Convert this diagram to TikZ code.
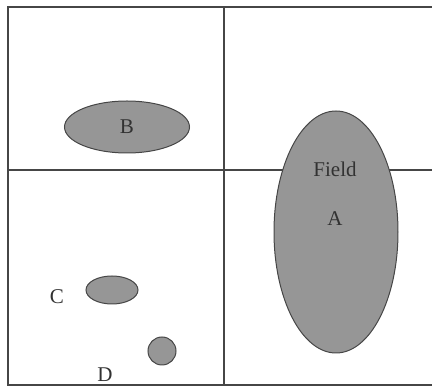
\documentclass[tikz,border=0pt]{standalone}
\usepackage{fontspec}
\setmainfont{Liberation Serif}
\usetikzlibrary{shapes.geometric}
\definecolor{relleno}{RGB}{150,150,150}
\definecolor{borde}{RGB}{70,70,70}
\definecolor{texto}{RGB}{50,50,50}

\begin{document}
\begin{tikzpicture}[x=1pt, y=-1pt, region/.style={ellipse, draw=borde, fill=relleno, line width=1pt, inner sep=0pt}, etiqueta/.style={text=texto, font=\fontsize{21}{25}\selectfont}, linea/.style={draw=borde, line width=1.8pt}]
                    \useasboundingbox (0,0) rectangle (432,387);

                    % Cuadrícula
                    \coordinate (NO) at (8,7);
                    \coordinate (SO) at (8,385);
                    \coordinate (NE) at (432,7);
                    \coordinate (SE) at (432,385);
                    \coordinate (MN) at (224,7);
                    \coordinate (MS) at (224,385);
                    \coordinate (MO) at (8,170);
                    \coordinate (ME) at (432,170);
                    \draw[linea] (NE) -- (NO) -- (SO) -- (SE);
                    \draw[linea] (MN) -- (MS);
                    \draw[linea] (MO) -- (ME);

                    % Regiones
                    \node[region, minimum width=124, minimum height=242] (A) at (336,232) {};
                    \node[region, etiqueta, minimum width=125, minimum height=52] (B) at (127,127) {B};
                    \node[region, minimum width=52, minimum height=28] (C) at (112,290) {};
                    \node[region, circle, minimum size=28] (D) at (162,351) {};

                    % Etiquetas
                    \node[etiqueta] (field) at (335,169) {Field};
                    \node[etiqueta] (labA) at (335,219) {A};
                    \node[etiqueta] (labC) at (57,297) {C};
                    \node[etiqueta] (labD) at (105,375) {D};
                \end{tikzpicture}
\end{document}
